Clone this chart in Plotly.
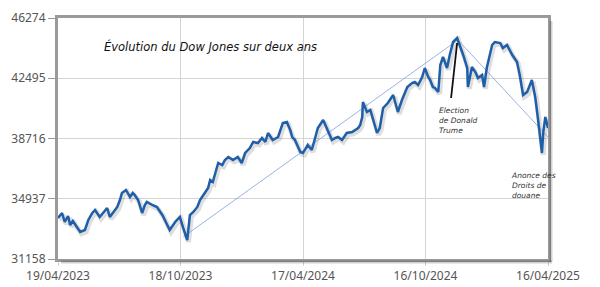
import pandas as pd
import plotly.graph_objects as go

# ---- data ----
start_date = "2023-04-19"
days = [0, 6, 10, 15, 18, 22, 28, 33, 40, 45, 51, 55, 62, 68, 73, 77, 83, 88, 92, 95,
        101, 107, 111, 114, 119, 125, 129, 132, 140, 147, 155, 160, 166, 174, 181, 186, 192, 196, 201, 207,
        211, 218, 223, 226, 230, 235, 238, 244, 248, 253, 260, 267, 273, 278, 285, 290, 297, 303, 308, 312,
        319, 327, 331, 334, 340, 345, 348, 352, 360, 364, 371, 377, 382, 386, 394, 401, 407, 412, 416, 422,
        429, 437, 446, 449, 452, 453, 459, 464, 468, 474, 478, 483, 490, 498, 505, 511, 519, 526, 530, 535,
        541, 545, 550, 553, 557, 560, 565, 568, 572, 578, 582, 587, 593, 597, 602, 608, 609, 615, 620, 624,
        630, 633, 637, 645, 649, 657, 661, 667, 675, 682, 686, 691, 697, 704, 709, 713, 716, 719, 721, 724, 728]
dow = [33730, 34044, 33479, 33855, 33291, 33542, 33166, 32852, 32977, 33605, 34044, 34232, 33793, 34106, 34357, 33793, 34169, 34420, 34859, 35298,
       35486, 35047, 35298, 35173, 34859, 34044, 34545, 34734, 34545, 34420, 33918, 33479, 32977, 33479, 33793, 33103, 32350, 33918, 34106, 34420,
       34859, 35298, 35612, 36113, 35988, 36741, 37180, 37054, 37368, 37556, 37368, 37556, 37180, 37807, 38120, 38497, 38434, 38748, 38497, 39061,
       38622, 38810, 39249, 39688, 39751, 39249, 38810, 38622, 37870, 37807, 38309, 37995, 38748, 39375, 39877, 39249, 38622, 38748, 38810, 38622,
       39061, 39124, 39375, 39563, 40065, 41006, 40378, 40504, 39877, 39061, 39375, 40629, 40943, 41445, 40378, 41131, 41946, 42197, 42260, 42072,
       42574, 43138, 42574, 42385, 41946, 41884, 41633, 43326, 43828, 43138, 43953, 44769, 45020, 44581, 43953, 43138, 41946, 43201, 42887, 42511,
       42699, 41946, 43138, 44581, 44769, 44706, 44392, 44581, 43953, 43514, 42699, 41445, 41633, 42385, 41319, 40002, 38936, 37807, 39124, 40065, 39375]

trend_days = [186, 590, 597, 728]
trend_vals = [32540, 44770, 44769, 38810]
marker_days = [593, 584]
marker_vals = [44706, 41256]

tick_vals = ["2023-04-19", "2023-10-18", "2024-04-17", "2024-10-16", "2025-04-16"]
tick_text = ["19/04/2023", "18/10/2023", "17/04/2024", "16/10/2024", "16/04/2025"]
y_ticks = [31158, 34937, 38716, 42495, 46274]

title_text = "Évolution du Dow Jones sur deux ans"
note_election = "Election<br>de Donald<br>Trume"
note_douane = "Anonce des<br>Droits de<br>douane"

# ---- build ----
t0 = pd.Timestamp(start_date)
dates = t0 + pd.to_timedelta(days, unit="D")
trend_dates = t0 + pd.to_timedelta(trend_days[:2], unit="D")
trend_dates2 = t0 + pd.to_timedelta(trend_days[2:], unit="D")
mark_dates = t0 + pd.to_timedelta(marker_days, unit="D")

fig = go.Figure()
# soft shadow of the main line
fig.add_trace(go.Scatter(x=dates + pd.Timedelta(days=2), y=[v - 120 for v in dow], mode="lines",
                         line=dict(color="rgba(0,0,0,0.13)", width=5), hoverinfo="skip", showlegend=False))
fig.add_trace(go.Scatter(x=trend_dates, y=trend_vals[:2], mode="lines",
                         line=dict(color="#7f9fdc", width=0.8), showlegend=False))
fig.add_trace(go.Scatter(x=trend_dates2, y=trend_vals[2:], mode="lines",
                         line=dict(color="#7f9fdc", width=0.8), showlegend=False))
fig.add_trace(go.Scatter(x=dates, y=dow, mode="lines",
                         line=dict(color="#1f5ea8", width=2.5), showlegend=False))
fig.add_trace(go.Scatter(x=mark_dates, y=marker_vals, mode="lines",
                         line=dict(color="#111111", width=1.8), showlegend=False))

hand = "DejaVu Sans"
fig.add_annotation(x=(102 - 58) / 490, y=(259 - 46) / 241, xref="paper", yref="paper",
                   text=title_text, showarrow=False, xanchor="left", yanchor="middle",
                   font=dict(family=hand, size=11.5, color="#111111", style="italic"))
fig.add_annotation(x=(437 - 58) / 490, y=(259 - 120) / 241, xref="paper", yref="paper",
                   text=note_election, showarrow=False, xanchor="left", yanchor="middle", align="left",
                   font=dict(family=hand, size=7.5, color="#333333", style="italic"))
fig.add_annotation(x=(509 - 58) / 490, y=(259 - 185) / 241, xref="paper", yref="paper",
                   text=note_douane, showarrow=False, xanchor="left", yanchor="middle", align="left",
                   font=dict(family=hand, size=7.5, color="#333333", style="italic"))

# frame shadow
fig.add_shape(type="line", xref="paper", yref="paper", x0=1 + 3 / 490, x1=1 + 3 / 490,
              y0=-3 / 241, y1=1 - 3 / 241, line=dict(color="rgba(0,0,0,0.18)", width=3))
fig.add_shape(type="line", xref="paper", yref="paper", x0=3 / 490, x1=1 + 4 / 490,
              y0=-3 / 241, y1=-3 / 241, line=dict(color="rgba(0,0,0,0.18)", width=3))

fig.update_xaxes(range=[tick_vals[0], tick_vals[-1]], tickvals=tick_vals, ticktext=tick_text,
                 showgrid=True, gridcolor="#d4d4d4", gridwidth=1, automargin=False,
                 showline=True, linecolor="#9a9a9a", linewidth=3, mirror=True,
                 ticks="outside", ticklen=4, tickcolor="#d4d4d4", tickwidth=1,
                 tickfont=dict(family="Noto Sans", size=12, color="#555555"), zeroline=False)
fig.update_yaxes(range=[y_ticks[0], y_ticks[-1]], tickvals=y_ticks, ticktext=[str(v) for v in y_ticks],
                 showgrid=True, gridcolor="#d4d4d4", gridwidth=1, automargin=False,
                 showline=True, linecolor="#9a9a9a", linewidth=3, mirror=True,
                 ticks="outside", ticklen=7, tickcolor="#9a9a9a", tickwidth=1,
                 tickfont=dict(family="Noto Sans", size=12, color="#555555"), zeroline=False)

fig.update_layout(width=600, height=287, margin=dict(l=58, r=52, t=18, b=28),
                  plot_bgcolor="white", paper_bgcolor="white")

fig.write_html("out.html")
